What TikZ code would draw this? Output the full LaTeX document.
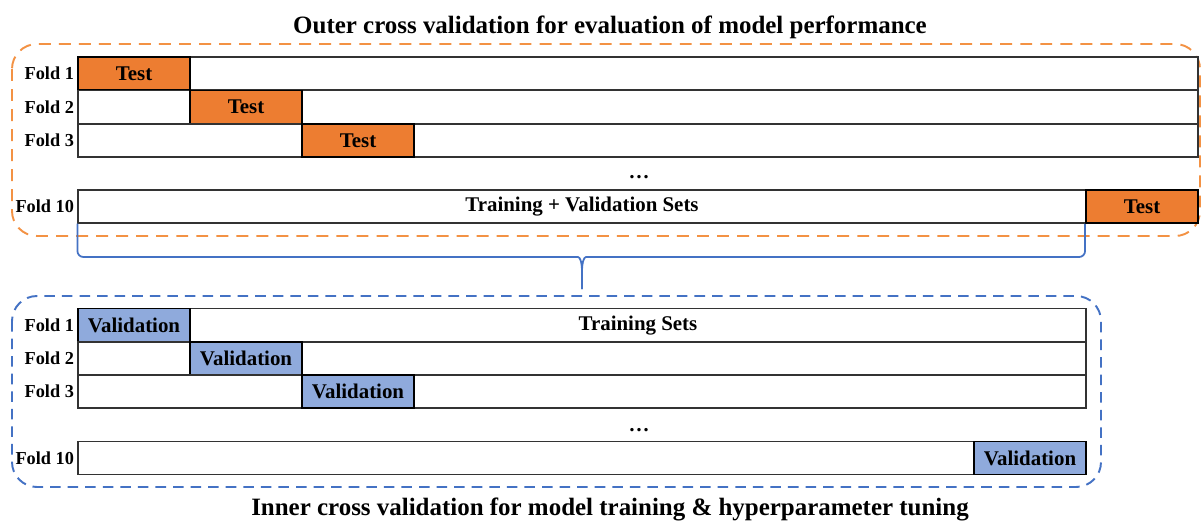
\documentclass[tikz,border=0pt]{standalone}
\usepackage{fontspec}
\setmainfont{Liberation Serif}
\usetikzlibrary{positioning, calc}
\definecolor{testorange}{HTML}{ED7D31}
\definecolor{frameorange}{HTML}{F39244}
\definecolor{valblue}{HTML}{8FAADC}
\definecolor{frameblue}{HTML}{4472C4}

\begin{document}
\begin{tikzpicture}[
  x=0.02cm, y=-0.02cm,
  bar/.style={rectangle, draw=black!80, line width=0.8pt, fill=white, minimum height=0.66cm, inner sep=0pt},
  seg/.style={rectangle, draw=black, line width=1.1pt, minimum width=2.24cm, minimum height=0.66cm, inner sep=0pt, font=\fontsize{11.9}{14}\selectfont\bfseries},
  testbox/.style={seg, fill=testorange},
  valbox/.style={seg, fill=valblue},
  barlabel/.style={inner sep=0pt, font=\fontsize{11.9}{14}\selectfont\bfseries},
  foldlab/.style={anchor=east, inner sep=1pt, font=\fontsize{10.4}{12}\selectfont\bfseries},
  title/.style={inner sep=0pt, font=\fontsize{14.2}{17}\selectfont\bfseries},
  outerframe/.style={draw=frameorange, line width=1.1pt, dash pattern=on 6.8pt off 4.6pt, rounded corners=0.5cm},
  innerframe/.style={draw=frameblue, line width=1.1pt, dash pattern=on 6pt off 4pt, rounded corners=0.5cm},
  brace/.style={draw=frameblue, line width=1pt}
]
\useasboundingbox (0,0) rectangle (1202,521);

% outer cross validation
\node[title] (otitle) at (610,27) {Outer cross validation for evaluation of model performance};
\draw[outerframe] (12,44) rectangle (1200,236);
\foreach \i/\y in {1/73.5, 2/107, 3/140.5} {
  \node[bar, minimum width=22.4cm] (outer\i) at (638,\y) {};
  \node[foldlab] (olab\i) at (76,\y) {Fold \i};
  \node[testbox] (otest\i) at ({78+112*(\i-0.5)},\y) {Test};
}
\node[barlabel] (odots) at (639,177) {\dots};
\node[bar, minimum width=22.4cm] (outer10) at (638,206.5) {};
\node[foldlab] (olab10) at (76,206.5) {Fold 10};
\node[barlabel] (otrain) at (582,207) {Training + Validation Sets};
\node[testbox] (otest10) at (1142,206.5) {Test};

% brace down to the inner loop
\coordinate (tip) at (582,289);
\draw[brace, rounded corners=0.12cm] (outer10.south west) |- (572,257) [sharp corners] .. controls (580,257) and (582,262) .. (582,272) -- (tip);
\draw[brace, rounded corners=0.12cm] (otest10.south west) |- (592,257) [sharp corners] .. controls (584,257) and (582,262) .. (582,272) -- (tip);

% inner cross validation
\draw[innerframe] (12,296) rectangle (1101,487);
\foreach \i/\y in {1/325, 2/358.5, 3/391.5} {
  \node[bar, minimum width=20.16cm] (inner\i) at (582,\y) {};
  \node[foldlab] (ilab\i) at (76,\y) {Fold \i};
  \node[valbox] (ival\i) at ({78+112*(\i-0.5)},\y) {Validation};
}
\node[barlabel] (itrain) at (638,325.5) {Training Sets};
\node[barlabel] (idots) at (639,430) {\dots};
\node[bar, minimum width=20.16cm] (inner10) at (582,458) {};
\node[foldlab] (ilab10) at (76,458) {Fold 10};
\node[valbox] (ival10) at (1030,458) {Validation};
\node[title] (ititle) at (610,509) {Inner cross validation for model training \& hyperparameter tuning};
\end{tikzpicture}
\end{document}
